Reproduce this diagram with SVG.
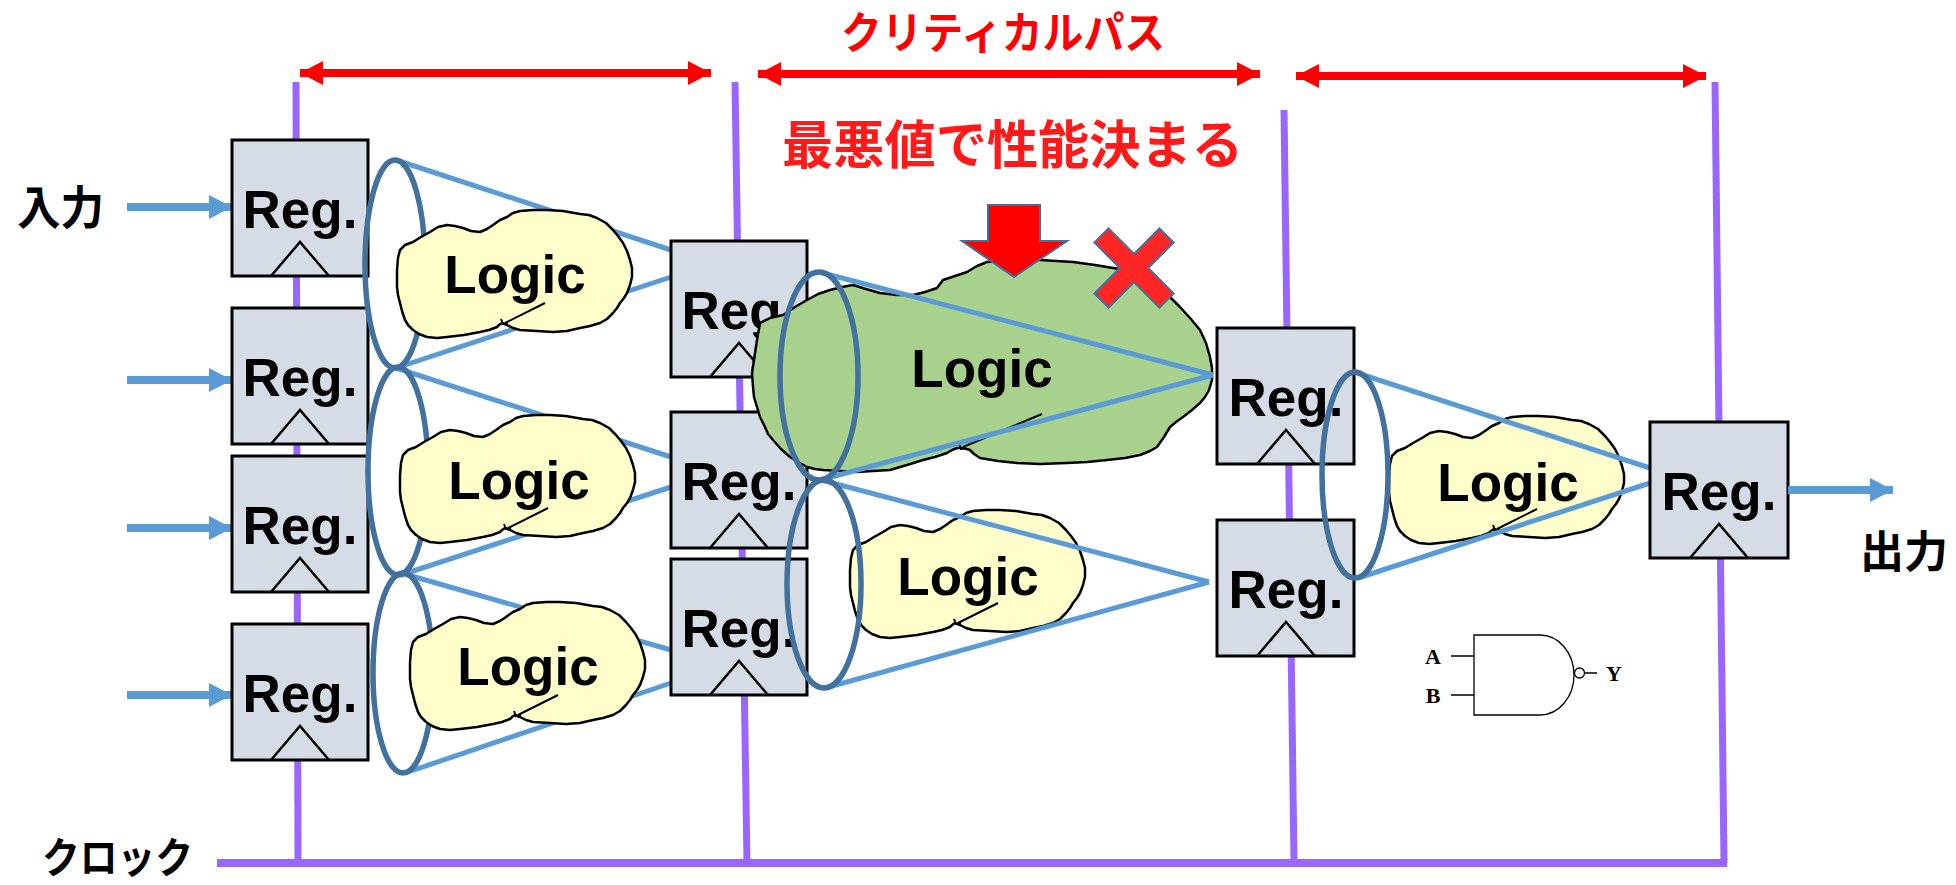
<svg xmlns="http://www.w3.org/2000/svg" xmlns:xlink="http://www.w3.org/1999/xlink" width="1956" height="885" viewBox="0 0 1956 885">
  <style>
    .clk { stroke: #9966FF; stroke-width: 7; fill: none; }
    .clkmain { stroke: #9966FF; stroke-width: 8; fill: none; }
    .span { stroke: #FF0000; stroke-width: 8; fill: none; }
    .io { stroke: #5B9BD5; stroke-width: 8; fill: none; }
    .reg rect { fill: #D6DCE5; stroke: #000; stroke-width: 3; }
    .reg polyline { fill: none; stroke: #000; stroke-width: 2.5; }
    .lbl { font-family: "Liberation Sans", Arial, sans-serif; font-weight: bold; font-size: 53px; fill: #000; text-anchor: middle; }
    .jp { font-family: "Noto Sans CJK JP", sans-serif; font-weight: bold; }
    .cone { stroke: #5B9BD5; stroke-width: 5; fill: none; }
    .ring { stroke: #41719C; stroke-width: 5.5; fill: none; }
    .cloud { fill: #FFFFCC; stroke: #000; stroke-width: 2.5; stroke-linejoin: round; }
    .tail { fill: none; stroke: #000; stroke-width: 2; }
    .gate { fill: none; stroke: #000; stroke-width: 1.3; }
    .gtxt { font-family: "Liberation Serif", "Times New Roman", serif; font-weight: bold; font-size: 22px; fill: #000; text-anchor: middle; }
  </style>
  <defs>
    <marker id="redHead" markerUnits="userSpaceOnUse" markerWidth="24" markerHeight="24" refX="23" refY="12" orient="auto-start-reverse">
      <path d="M0,0 L23,12 L0,24 Z" fill="#FF0000"/>
    </marker>
    <marker id="blueHead" markerUnits="userSpaceOnUse" markerWidth="24" markerHeight="24" refX="23" refY="12" orient="auto">
      <path d="M0,0 L23,12 L0,24 Z" fill="#5B9BD5"/>
    </marker>
    <!-- hand-drawn blob used for every small logic cloud -->
    <g id="blob">
      <path class="cloud" d="M0,60 L1,48 3,40 8,35 16,32 24,27 33,22 41,17 50,15 58,16 66,18 74,21 83,22 90,19 96,15 103,10 110,7 116,3 123,1 136,0 150,0 166,1 183,4 192,5 200,8 209,13 216,20 221,26 226,33 230,41 233,50 235,58 235,67 233,75 230,83 227,88 223,93 220,98 216,103 210,109 203,113 193,116 183,118 170,121 156,122 140,121 123,120 116,118 110,115 105,113 102,115 100,117 92,120 83,122 67,125 50,127 40,128 30,127 22,124 16,120 11,115 8,110 5,101 3,93 1,85 0,77 Z"/>
      <path class="tail" d="M148,93 L108,113 M104,109 L106,114 L111,113"/>
    </g>
  </defs>

  <rect width="1956" height="885" fill="#FFFFFF"/>

  <!-- clock distribution -->
  <g id="clock">
    <path class="clk" d="M296,82 L298,863"/>
    <path class="clk" d="M735,82 L747,863"/>
    <path class="clk" d="M1284,110 L1294,863"/>
    <path class="clk" d="M1715,82 L1724,863"/>
    <path class="clkmain" d="M217,863 L1727,863"/>
    <text class="jp" x="42" y="873" font-size="42" textLength="151" lengthAdjust="spacingAndGlyphs">クロック</text>
  </g>

  <!-- stage spans -->
  <g id="spans">
    <path class="span" d="M300,73 L711,73" marker-start="url(#redHead)" marker-end="url(#redHead)"/>
    <path class="span" d="M758,74 L1260,74" marker-start="url(#redHead)" marker-end="url(#redHead)"/>
    <path class="span" d="M1296,76 L1706,76" marker-start="url(#redHead)" marker-end="url(#redHead)"/>
    <text class="jp" x="841" y="49" font-size="44" fill="#FF0000" textLength="324" lengthAdjust="spacingAndGlyphs">クリティカルパス</text>
    <text class="jp" x="782" y="164" font-size="52" fill="#FF1A1A" textLength="461" lengthAdjust="spacingAndGlyphs">最悪値で性能決まる</text>
  </g>

  <!-- inputs -->
  <g id="inputs">
    <path class="io" d="M127,207 L232,207" marker-end="url(#blueHead)"/>
    <path class="io" d="M127,380 L232,380" marker-end="url(#blueHead)"/>
    <path class="io" d="M127,528 L232,528" marker-end="url(#blueHead)"/>
    <path class="io" d="M127,695 L232,695" marker-end="url(#blueHead)"/>
    <text class="jp" x="17" y="224" font-size="46" textLength="87" lengthAdjust="spacingAndGlyphs">入力</text>
  </g>

  <!-- first register column -->
  <g id="regA1" class="reg">
    <rect x="232" y="140" width="136" height="136"/>
    <text class="lbl" x="300" y="228">Reg.</text>
    <polyline points="271,276 300,242 329,276"/>
  </g>
  <g id="regA2" class="reg">
    <rect x="232" y="308" width="136" height="136"/>
    <text class="lbl" x="300" y="396">Reg.</text>
    <polyline points="271,444 300,410 329,444"/>
  </g>
  <g id="regA3" class="reg">
    <rect x="232" y="456" width="136" height="136"/>
    <text class="lbl" x="300" y="544">Reg.</text>
    <polyline points="271,592 300,558 329,592"/>
  </g>
  <g id="regA4" class="reg">
    <rect x="232" y="624" width="136" height="136"/>
    <text class="lbl" x="300" y="712">Reg.</text>
    <polyline points="271,760 300,726 329,760"/>
  </g>

  <!-- first stage fan-in cones -->
  <g id="conesA">
    <path class="cone" d="M396,160 L671,250 M396,368 L671,277"/>
    <path class="cone" d="M396,368 L671,457 M401,575 L671,487"/>
    <path class="cone" d="M401,573 L671,650 M405,773 L671,683"/>
    <ellipse class="ring" cx="395" cy="264" rx="30" ry="104"/>
    <ellipse class="ring" cx="398" cy="471" rx="30" ry="104"/>
    <ellipse class="ring" cx="403" cy="673" rx="30" ry="100"/>
  </g>

  <!-- first stage logic -->
  <g id="logicA1">
    <use xlink:href="#blob" transform="translate(397,210)"/>
    <text class="lbl" x="515" y="293">Logic</text>
  </g>
  <g id="logicA2">
    <use xlink:href="#blob" transform="translate(400,415)"/>
    <text class="lbl" x="519" y="499">Logic</text>
  </g>
  <g id="logicA3">
    <use xlink:href="#blob" transform="translate(410,602)"/>
    <text class="lbl" x="528" y="685">Logic</text>
  </g>

  <!-- second register column -->
  <g id="regB1" class="reg">
    <rect x="671" y="241" width="136" height="136"/>
    <text class="lbl" x="739" y="329">Reg.</text>
    <polyline points="710,377 739,343 768,377"/>
  </g>
  <g id="regB2" class="reg">
    <rect x="671" y="412" width="136" height="136"/>
    <text class="lbl" x="739" y="500">Reg.</text>
    <polyline points="710,548 739,514 768,548"/>
  </g>
  <g id="regB3" class="reg">
    <rect x="671" y="559" width="136" height="136"/>
    <text class="lbl" x="739" y="647">Reg.</text>
    <polyline points="710,695 739,661 768,695"/>
  </g>

  <!-- critical path logic -->
  <g id="logicCritical">
    <path d="M752,373 L757,340 760,323 770,318 783,315 795,307 807,300 818,294 830,290 842,287 853,285 866,289 880,293 897,295 913,295 925,292 937,288 940,284 943,280 955,276 967,272 977,266 987,262 1007,260 1040,260 1073,262 1095,265 1113,268 1126,270 1140,272 1155,285 1170,297 1180,307 1190,318 1200,330 1206,343 1210,357 1212,368 1212,380 1209,390 1205,397 1200,403 1192,410 1183,417 1176,422 1170,427 1164,437 1157,447 1150,451 1140,455 1125,458 1107,460 1087,462 1067,463 1040,464 1017,463 998,461 980,458 974,454 970,450 963,448 957,448 952,450 947,453 935,457 923,460 907,465 890,470 873,471 857,472 840,471 823,470 815,469 807,467 798,462 790,457 781,449 773,440 768,434 765,427 760,417 757,407 754,397 753,387 Z" fill="#A9D18E" stroke="#000" stroke-width="2.5" stroke-linejoin="round"/>
    <path class="tail" d="M1042,414 L963,447 M959,443 L961,449 L966,448"/>
    <text class="lbl" x="982" y="387">Logic</text>
  </g>
  <g id="logicB2">
    <use xlink:href="#blob" transform="translate(850,510)"/>
    <text class="lbl" x="968" y="595">Logic</text>
  </g>

  <!-- second stage fan-in cones -->
  <g id="conesB">
    <path class="cone" d="M819,272 L1213,375 M820,480 L1213,375"/>
    <path class="cone" d="M821,480 L1209,582 M825,688 L1209,582"/>
    <ellipse class="ring" cx="819" cy="376" rx="39" ry="104"/>
    <ellipse class="ring" cx="824" cy="584" rx="37" ry="104"/>
  </g>

  <!-- third register column -->
  <g id="regC1" class="reg">
    <rect x="1217" y="328" width="137" height="136"/>
    <text class="lbl" x="1286" y="416">Reg.</text>
    <polyline points="1257,464 1286,430 1315,464"/>
  </g>
  <g id="regC2" class="reg">
    <rect x="1217" y="520" width="137" height="136"/>
    <text class="lbl" x="1286" y="608">Reg.</text>
    <polyline points="1257,656 1286,622 1315,656"/>
  </g>

  <!-- third stage logic -->
  <g id="logicC">
    <use xlink:href="#blob" transform="translate(1389,416)"/>
    <text class="lbl" x="1508" y="501">Logic</text>
  </g>
  <g id="conesC">
    <path class="cone" d="M1354,372 L1650,468 M1358,578 L1650,483"/>
    <ellipse class="ring" cx="1355" cy="475" rx="33" ry="103"/>
  </g>

  <!-- output register -->
  <g id="regD" class="reg">
    <rect x="1650" y="422" width="138" height="136"/>
    <text class="lbl" x="1719" y="510">Reg.</text>
    <polyline points="1690,558 1719,524 1748,558"/>
  </g>
  <g id="output">
    <path class="io" d="M1788,490 L1893,490" marker-end="url(#blueHead)"/>
    <text class="jp" x="1860" y="568" font-size="44" textLength="88" lengthAdjust="spacingAndGlyphs">出力</text>
  </g>

  <!-- emphasis marks on the critical path -->
  <g id="pointer">
    <polygon points="988,205 1040,205 1040,241 1067,241 1014,277 962,241 988,241" fill="#FF0000" stroke="#41719C" stroke-width="2"/>
  </g>
  <g id="cross">
    <polygon transform="translate(1134,268) rotate(45)" points="10,-46 10,-10 46,-10 46,10 10,10 10,46 -10,46 -10,10 -46,10 -46,-10 -10,-10 -10,-46" fill="#FF2626" stroke="#41719C" stroke-width="2"/>
  </g>

  <!-- NAND gate symbol -->
  <g id="nand">
    <path class="gate" d="M1474,635 L1540,635 A34,40 0 0 1 1540,715 L1474,715 Z"/>
    <path class="gate" d="M1451,656 L1474,656 M1451,695 L1474,695 M1585,673 L1597,673"/>
    <circle class="gate" cx="1579.5" cy="673" r="5"/>
    <text class="gtxt" x="1433" y="664">A</text>
    <text class="gtxt" x="1433" y="703">B</text>
    <text class="gtxt" x="1614" y="681">Y</text>
  </g>
</svg>
